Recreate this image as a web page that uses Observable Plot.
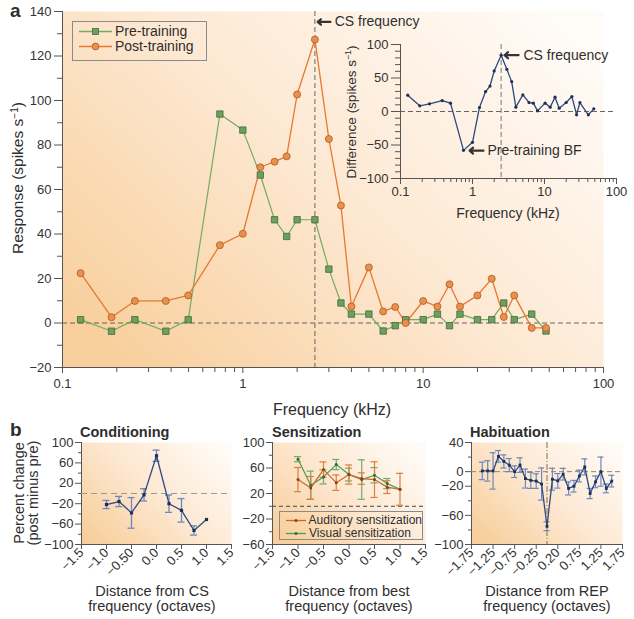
<!DOCTYPE html>
<html><head><meta charset="utf-8">
<script src="https://cdn.jsdelivr.net/npm/d3@7"></script>
<script src="https://cdn.jsdelivr.net/npm/@observablehq/plot@0.6"></script>
<style>
body{margin:0;background:#fff;}
#root{position:relative;width:634px;height:619px;overflow:hidden;font-family:"Liberation Sans",Arial,sans-serif;color:#2e2e2e;}
.legend{position:absolute;border:1px solid #8a8a8a;box-sizing:border-box;}
.legend .row{display:flex;align-items:center;white-space:nowrap;}
</style></head><body><div id="root"></div>
<script>
// ---------- DATA ----------
// Panel a: frequency tuning (kHz) and response (spikes/s)
const freqs = [0.126,0.187,0.252,0.374,0.498,0.746,1.0,1.25,1.5,1.75,2.0,2.51,3.0,3.5,4.0,5.0,6.0,7.0,8.0,10.0,12.0,14.0,16.0,20.0,24.0,28.0,32.0,40.0,48.0];
const preTraining  = [1.5,-3.7,1.5,-3.7,1.5,93.9,86.7,66.5,46.4,38.9,46.4,46.4,24.2,9.0,4.0,4.0,-3.6,-1.2,1.5,1.5,4.0,-1.2,4.0,1.5,1.5,9.0,1.5,4.0,-3.6];
const postTraining = [22.4,2.6,9.9,9.9,12.4,35.0,40.1,70.0,72.5,74.9,102.7,127.4,82.7,52.8,7.4,25.0,5.2,7.2,0,9.9,7.4,17.4,7.4,12.4,19.9,2.7,12.4,-2.2,-2.2];
const csFrequency = 2.51;
// Inset: difference (post minus pre)
const diffFreqs = [0.126,0.185,0.253,0.379,0.495,0.75,1.0,1.25,1.52,1.75,2.0,2.5,3.0,3.5,4.0,5.0,6.1,7.0,8.0,10.2,12,14,16,20,24,27.9,31,40.6,48.4];
const diffValues = [24.4,8.5,11.4,16.3,12.5,-58,-46,6,29.7,38,60.5,84,63,44.6,6.5,24.8,13.4,12.5,1,12.5,6.5,21.4,5,13.4,22.3,-4.9,13.4,-4.9,4];
// Tick values / labels
const freqMajor = [0.1,1,10,100];
const freqMinor = [0.2,0.3,0.4,0.5,0.6,0.7,0.8,0.9,2,3,4,5,6,7,8,9,20,30,40,50,60,70,80,90];
const respTicks = [-20,0,20,40,60,80,100,120,140];
const respMinor = [-10,10,30,50,70,90,110,130];
const diffTicks = [-100,-50,0,50,100];
const diffMinor = [-90,-80,-70,-60,-40,-30,-20,-10,10,20,30,40,60,70,80,90];
// Annotations (data coordinates)
const mainNotes = [{x1:3.06, x2:2.6, y:135.3, tx:3.23, label:"CS frequency"}];
const insetNotes = [
  {x1:4.36, x2:2.78, y:84, tx:5.1, label:"CS frequency"},
  {x1:1.42, x2:0.91, y:-58.4, tx:1.61, label:"Pre-training BF"}
];

// Panel b: Conditioning
const condX = [-1,-0.75,-0.5,-0.25,0,0.25,0.5,0.75,1];
const condVal = [-21.6,-15.7,-38,-2.6,74,-20,-33,-72.5,-51];
const condErr = [8,10,30,12,11,17,23,9,0];
const condTicks = [-1.5,-1,-0.5,0,0.5,1,1.5];
const condTickLabels = ["−1.5","−1.0","−0.50","0.0","0.5","1.0","1.5"];
// Sensitization
const sensX = [-1,-0.75,-0.5,-0.25,0,0.25,0.5,0.75,1];
const audVal = [41.8,28.7,57.5,37,49.7,43.4,41.8,30,26.6];
const audErr = [19,18,12,12,15,9,28,10,25];
const visVal = [73.8,33,46,65.4,49.7,41.8,48.6,35.5,26.6];
const visErr = [4,22,11,8,10,31,12,8,0];
const sensTicks = [-1.5,-1,-0.5,0,0.5,1,1.5];
const sensTickLabels = ["−1.5","−1.0","−0.5","0.0","0.5","1.0","1.5"];
// Habituation
const habX = [-1.5,-1.375,-1.25,-1.125,-1,-0.875,-0.75,-0.625,-0.5,-0.375,-0.25,-0.125,0,0.125,0.25,0.375,0.5,0.625,0.75,0.875,1,1.125,1.25,1.375,1.5];
const habVal = [1,1,1,21,14,9,0,9,-9.5,-12,-13,-17,-75,-10.4,-12.6,-3.5,-23,-20,-6,6.5,-30,-14,0,-23,-13];
const habErr = [12,14,25,8,9,9,8,10,13,11,10,22,6,15,10,8,9,8,8,11,7,8,20,6,8];
const habTicks = [-1.75,-1.25,-0.75,-0.25,0.25,0.75,1.25,1.75];
const habTickLabels = ["−1.75","−1.25","−0.75","−0.25","0.20","0.75","1.25","1.75"];

// ---------- HELPERS ----------
const FONT = '"Liberation Sans", Arial, sans-serif';
const root = document.getElementById("root");
function gradient(svg, id){
  const g = d3.select(svg).insert("defs", ":first-child").append("linearGradient")
    .attr("id", id).attr("x1", 0).attr("y1", 0.85).attr("x2", 1).attr("y2", 0.15);
  [[0,"#f8cf9c"],[0.5,"#fde8d2"],[1,"#fffbf7"]].forEach(([o,c]) => g.append("stop").attr("offset", o).attr("stop-color", c));
}
function place(svg, left, top){
  svg.style.position = "absolute"; svg.style.left = left + "px"; svg.style.top = top + "px";
  root.appendChild(svg);
}
const baseStyle = {fontFamily: FONT, fontSize: "13px", color: "#333", background: "transparent", overflow: "visible"};
const table = (xs, vs, es) => xs.map((x, i) => ({x, v: vs[i], e: es ? es[i] : 0}));
const fmt = (ticks, labels) => d => labels[ticks.indexOf(d)] ?? "";

// ---------- PANEL A ----------
const preT = table(freqs, preTraining), postT = table(freqs, postTraining);
const mainPlot = Plot.plot({
  width: 634, height: 420, marginLeft: 62, marginRight: 31, marginTop: 11, marginBottom: 53,
  style: baseStyle,
  x: {type: "log", domain: [0.1, 100]},
  y: {domain: [-20, 140]},
  marks: [
    Plot.frame({fill: "url(#gMain)", stroke: "none"}),
    Plot.axisY({ticks: respTicks, tickSize: 8, tickPadding: 3, label: null, stroke: "#555"}),
    Plot.axisY({ticks: respMinor, tickSize: 5, text: null, label: null, stroke: "#555"}),
    Plot.axisX({ticks: freqMajor, tickSize: 6, tickPadding: 5, tickFormat: d => String(d), label: null, stroke: "#555"}),
    Plot.axisX({ticks: freqMinor, tickSize: 5, text: null, label: null, stroke: "#555"}),
    Plot.ruleX([0.1], {stroke: "#555"}),
    Plot.ruleY([-20], {stroke: "#555"}),
    Plot.ruleY([0], {stroke: "#555", strokeDasharray: "5,3", strokeWidth: 0.9}),
    Plot.ruleX([csFrequency], {stroke: "#555", strokeDasharray: "5,3", strokeWidth: 0.9}),
    Plot.line(preT, {x: "x", y: "v", stroke: "#72ac62", strokeWidth: 1.2}),
    Plot.line(postT, {x: "x", y: "v", stroke: "#e8782e", strokeWidth: 1.3}),
    Plot.dot(preT, {x: "x", y: "v", symbol: "square", r: 3.6, fill: "#6f9f5e", stroke: "#3f6d38", strokeWidth: 0.8}),
    Plot.dot(postT, {x: "x", y: "v", r: 3.5, fill: "#e8914e", stroke: "#b05a1e", strokeWidth: 0.8}),
    Plot.arrow(mainNotes, {x1: "x1", y1: "y", x2: "x2", y2: "y", stroke: "#333", strokeWidth: 2.2, headLength: 6, headAngle: 80}),
    Plot.text(mainNotes, {x: "tx", y: "y", text: "label", textAnchor: "start", fontSize: 14, fill: "#2e2e2e"})
  ]
});
gradient(mainPlot, "gMain");
place(mainPlot, 0, 0);

// Inset
const diffT = table(diffFreqs, diffValues);
const inset = Plot.plot({
  width: 300, height: 195, marginLeft: 70, marginRight: 14, marginTop: 14, marginBottom: 47,
  style: baseStyle,
  x: {type: "log", domain: [0.1, 100]},
  y: {domain: [-100, 100]},
  marks: [
    Plot.axisY({ticks: diffTicks, tickSize: 9, tickPadding: 3, label: null, stroke: "#555"}),
    Plot.axisY({ticks: diffMinor, tickSize: 5, text: null, label: null, stroke: "#555"}),
    Plot.axisX({ticks: freqMajor, tickSize: 6, tickPadding: 2, tickFormat: d => String(d), label: null, stroke: "#555"}),
    Plot.axisX({ticks: freqMinor, tickSize: 4, text: null, label: null, stroke: "#555"}),
    Plot.ruleX([0.1], {stroke: "#555"}),
    Plot.ruleY([-100], {stroke: "#555"}),
    Plot.ruleY([0], {stroke: "#555", strokeDasharray: "5,3", strokeWidth: 0.9}),
    Plot.ruleX([2.5], {stroke: "#666", strokeDasharray: "5,3", strokeWidth: 0.9}),
    Plot.line(diffT, {x: "x", y: "v", stroke: "#2c4a7e", strokeWidth: 1.3}),
    Plot.dot(diffT, {x: "x", y: "v", r: 1.6, fill: "#1d3157"}),
    Plot.arrow(insetNotes, {x1: "x1", y1: "y", x2: "x2", y2: "y", stroke: "#333", strokeWidth: 2.2, headLength: 6, headAngle: 80}),
    Plot.text(insetNotes, {x: "tx", y: "y", text: "label", textAnchor: "start", fontSize: 14, fill: "#2e2e2e"})
  ]
});
place(inset, 330, 30);

// ---------- PANEL B ----------
function errMarks(data, dx, stroke, sw){
  const d = data.filter(r => r.e > 0);
  return [
    Plot.ruleX(d, {x: "x", y1: r => r.v - r.e, y2: r => r.v + r.e, stroke, strokeWidth: sw}),
    Plot.ruleY(d, {y: r => r.v - r.e, x1: r => r.x - dx, x2: r => r.x + dx, stroke, strokeWidth: sw}),
    Plot.ruleY(d, {y: r => r.v + r.e, x1: r => r.x - dx, x2: r => r.x + dx, stroke, strokeWidth: sw})
  ];
}
function axes(xTicks, xLabels, yTicks, yMinor, xMin, yMin){
  return [
    Plot.axisY({ticks: yTicks, tickSize: 6, tickPadding: 2, label: null, stroke: "#555"}),
    Plot.axisY({ticks: yMinor, tickSize: 3, text: null, label: null, stroke: "#555"}),
    Plot.axisX({ticks: xTicks, tickSize: 5, tickPadding: 1, tickRotate: -45, tickFormat: fmt(xTicks, xLabels), label: null, stroke: "#555"}),
    Plot.ruleX([xMin], {stroke: "#555"}),
    Plot.ruleY([yMin], {stroke: "#555"})
  ];
}

const condT = table(condX, condVal, condErr);
const cond = Plot.plot({
  width: 240, height: 199, marginLeft: 81, marginRight: 9, marginTop: 22, marginBottom: 75,
  style: baseStyle,
  x: {domain: [-1.5, 1.5]}, y: {domain: [-100, 100]},
  marks: [
    Plot.frame({fill: "url(#gCond)", stroke: "none"}),
    ...axes(condTicks, condTickLabels, [-100,-60,-20,20,60,100], [-80,-40,0,40,80], -1.5, -100),
    Plot.ruleY([0], {stroke: "#999", strokeDasharray: "6,4", strokeWidth: 1.2}),
    ...errMarks(condT, 0.07, "#6d88bb", 1.3),
    Plot.line(condT, {x: "x", y: "v", stroke: "#2d4a80", strokeWidth: 1.3}),
    Plot.dot(condT, {x: "x", y: "v", symbol: "square", r: 1.8, fill: "#1d2f55"})
  ]
});
gradient(cond, "gCond");
place(cond, 0, 420);

const audT = table(sensX, audVal, audErr), visT = table(sensX, visVal, visErr);
const sens = Plot.plot({
  width: 240, height: 199, marginLeft: 72, marginRight: 15, marginTop: 22, marginBottom: 75,
  style: baseStyle,
  x: {domain: [-1.5, 1.5]}, y: {domain: [-60, 100]},
  marks: [
    Plot.frame({fill: "url(#gSens)", stroke: "none"}),
    ...axes(sensTicks, sensTickLabels, [-60,-20,20,60,100], [-40,0,40,80], -1.5, -60),
    Plot.ruleY([0], {stroke: "#444", strokeDasharray: "4,3", strokeWidth: 1}),
    ...errMarks(visT, 0.07, "#6cae6c", 1.2),
    ...errMarks(audT, 0.07, "#dc7f3e", 1.2),
    Plot.line(visT, {x: "x", y: "v", stroke: "#4d9a55", strokeWidth: 1.2}),
    Plot.line(audT, {x: "x", y: "v", stroke: "#c9682a", strokeWidth: 1.2}),
    Plot.dot(visT, {x: "x", y: "v", r: 1.5, fill: "#2f6e36"}),
    Plot.dot(audT, {x: "x", y: "v", r: 1.5, fill: "#8a4216"})
  ]
});
gradient(sens, "gSens");
place(sens, 200, 420);

const habT = table(habX, habVal, habErr);
const hab = Plot.plot({
  width: 224, height: 199, marginLeft: 61, marginRight: 12, marginTop: 22, marginBottom: 75,
  style: baseStyle,
  x: {domain: [-1.75, 1.75]}, y: {domain: [-100, 40]},
  marks: [
    Plot.frame({fill: "url(#gHab)", stroke: "none"}),
    ...axes(habTicks, habTickLabels, [-100,-60,-20,0,40], [-80,-40,20], -1.75, -100),
    Plot.ruleY([0], {stroke: "#a08060", strokeDasharray: "5,3", strokeWidth: 1}),
    Plot.ruleX([0], {stroke: "#8a6a4a", strokeDasharray: "6,2,1,2", strokeWidth: 1}),
    ...errMarks(habT, 0.07, "#6d88bb", 1.2),
    Plot.line(habT, {x: "x", y: "v", stroke: "#2d4a80", strokeWidth: 1.3}),
    Plot.dot(habT, {x: "x", y: "v", symbol: "square", r: 1.6, fill: "#1d2f55"})
  ]
});
gradient(hab, "gHab");
place(hab, 410, 420);

// ---------- LEGENDS ----------
function legend(left, top, width, height, items, fontSize, swW){
  const div = document.createElement("div");
  div.className = "legend";
  Object.assign(div.style, {left: left + "px", top: top + "px", width: width + "px", height: height + "px", padding: "2px 0 0 6px", fontSize: fontSize + "px", lineHeight: (fontSize + 1) + "px"});
  items.forEach(it => {
    const row = document.createElement("div"); row.className = "row";
    const sw = d3.create("svg").attr("width", swW).attr("height", fontSize + 1).style("margin-right", "3px");
    const my = (fontSize + 1) / 2;
    sw.append("line").attr("x1", 0).attr("x2", swW).attr("y1", my).attr("y2", my).attr("stroke", it.color).attr("stroke-width", 1.3);
    if (it.shape === "square") sw.append("rect").attr("x", swW/2 - 3).attr("y", my - 3).attr("width", 6).attr("height", 6).attr("fill", it.fill).attr("stroke", it.edge).attr("stroke-width", 0.8);
    else if (it.shape === "circle") sw.append("circle").attr("cx", swW/2).attr("cy", my).attr("r", 3.4).attr("fill", it.fill).attr("stroke", it.edge).attr("stroke-width", 0.8);
    else sw.append("circle").attr("cx", swW/2).attr("cy", my).attr("r", 1.5).attr("fill", it.edge);
    row.appendChild(sw.node());
    const s = document.createElement("span"); s.textContent = it.label; row.appendChild(s);
    div.appendChild(row);
  });
  root.appendChild(div);
}
legend(72, 21, 135, 40, [
  {label: "Pre-training", color: "#72ac62", fill: "#6f9f5e", edge: "#3f6d38", shape: "square"},
  {label: "Post-training", color: "#e8782e", fill: "#e8914e", edge: "#b05a1e", shape: "circle"}
], 14, 33);
legend(279, 511, 144, 29, [
  {label: "Auditory sensitization", color: "#c9682a", edge: "#8a4216", shape: "dot"},
  {label: "Visual sensitization", color: "#4d9a55", edge: "#2f6e36", shape: "dot"}
], 12, 20);

// ---------- TEXT OVERLAY ----------
const ov = d3.create("svg").attr("width", 634).attr("height", 619)
  .style("position", "absolute").style("left", "0").style("top", "0").style("pointer-events", "none")
  .attr("font-family", FONT).attr("fill", "#2e2e2e");
function txt(x, y, parts, {size = 14, weight = 400, anchor = "start", rotate = 0} = {}){
  const t = ov.append("text").attr("x", x).attr("y", y).attr("font-size", size).attr("font-weight", weight).attr("text-anchor", anchor);
  if (rotate) t.attr("transform", `rotate(${rotate},${x},${y})`);
  (Array.isArray(parts) ? parts : [parts]).forEach(p => {
    if (typeof p === "string") t.append("tspan").text(p);
    else t.append("tspan").attr("baseline-shift", "super").attr("font-size", size * 0.65).text(p.sup);
  });
  return t;
}
txt(10, 17, "a", {size: 19, weight: 700});
txt(23, 178, ["Response (spikes s", {sup: "−1"}, ")"], {size: 15.5, anchor: "middle", rotate: -90});
txt(332, 415, "Frequency (kHz)", {size: 16, anchor: "middle"});
txt(356, 112, ["Difference (spikes s", {sup: "−1"}, ")"], {size: 13.5, anchor: "middle", rotate: -90});
txt(508, 218, "Frequency (kHz)", {size: 14, anchor: "middle"});
txt(10, 436, "b", {size: 19, weight: 700});
txt(80, 437, "Conditioning", {size: 14.5, weight: 700});
txt(272, 437, "Sensitization", {size: 14.5, weight: 700});
txt(470, 437, "Habituation", {size: 14.5, weight: 700});
txt(24, 493, "Percent change", {size: 14.5, anchor: "middle", rotate: -90});
txt(38, 493, "(post minus pre)", {size: 14.5, anchor: "middle", rotate: -90});
[[152, "Distance from CS"], [349, "Distance from best"], [547, "Distance from REP"]].forEach(([x, s]) => {
  txt(x, 596, s, {size: 14.5, anchor: "middle"});
  txt(x, 611, "frequency (octaves)", {size: 14.5, anchor: "middle"});
});
root.appendChild(ov.node());
</script></body></html>
